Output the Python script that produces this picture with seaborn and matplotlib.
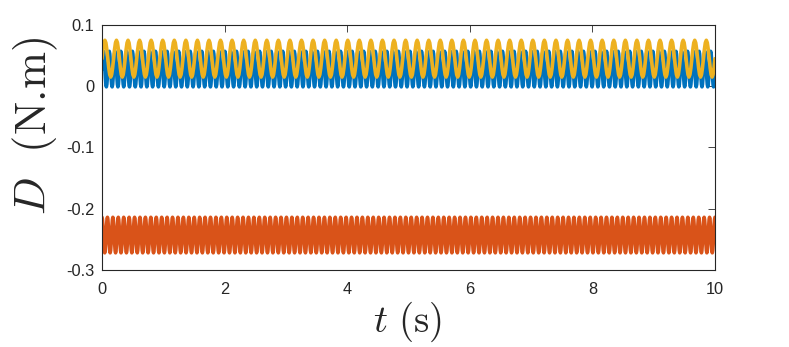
import numpy as np
import pandas as pd
import matplotlib
matplotlib.use("Agg")
import matplotlib.pyplot as plt
import seaborn as sns

blue_cycle = [0.028, 0.0425, 0.053, 0.057, 0.053, 0.0425, 0.028, 0.0135, 0.003, -0.001, 0.003, 0.0135]
orange_cycle = [-0.214, -0.2179, -0.2285, -0.243, -0.2575, -0.2681, -0.272, -0.2681, -0.2575, -0.243, -0.2285, -0.2179]
yellow_cycle = [0.045, 0.060, 0.071, 0.075, 0.071, 0.060, 0.045, 0.030, 0.019, 0.015, 0.019, 0.030]
# number of cycles over the 10 s window, counted from the picture
blue_cycles = 106
orange_cycles = 113
yellow_cycles = 53
t_end = 10.0

series_names = ["blue", "orange", "yellow"]
colors = ["#0072BD", "#D95319", "#EDB120"]

x_ticks = [0, 2, 4, 6, 8, 10]
x_tick_labels = ["0", "2", "4", "6", "8", "10"]
y_ticks = [-0.3, -0.2, -0.1, 0, 0.1]
y_tick_labels = ["-0.3", "-0.2", "-0.1", "0", "0.1"]

frames = []
for name, cyc, n in zip(series_names, [blue_cycle, orange_cycle, yellow_cycle],
                        [blue_cycles, orange_cycles, yellow_cycles]):
    vals = np.tile(np.asarray(cyc), n)
    vals = np.append(vals, cyc[0])
    t = np.linspace(0, t_end, len(vals))
    frames.append(pd.DataFrame({"t": t, "D": vals, "series": name}))
df = pd.concat(frames, ignore_index=True)

sns.set_style("white")
plt.rcParams["font.family"] = ["Liberation Sans", "DejaVu Sans"]
plt.rcParams["mathtext.fontset"] = "cm"

fig = plt.figure(figsize=(7.89, 3.47), dpi=100)
ax = fig.add_axes([0.1293, 0.222, 0.7769, 0.706])

sns.lineplot(data=df, x="t", y="D", hue="series", hue_order=series_names,
             palette=colors, estimator=None, sort=False, linewidth=2.6,
             legend=False, ax=ax)

ax.set_xlim(0, 10)
ax.set_ylim(-0.3, 0.1)
ax.set_xticks(x_ticks)
ax.set_yticks(y_ticks)
ax.set_xticklabels(x_tick_labels)
ax.set_yticklabels(y_tick_labels)
ax.tick_params(direction="in", length=5, width=0.6, color="#262626",
               labelsize=11.8, labelcolor="#262626", top=True, right=True)
ax.tick_params(axis="x", pad=9)
ax.tick_params(axis="y", pad=5.5)
for s in ax.spines.values():
    s.set_visible(True)
    s.set_color("#262626")
    s.set_linewidth(0.8)

ax.set_xlabel(r"$t\ (\mathrm{s})$", fontsize=28, color="#262626")
ax.set_ylabel(r"$D\ \ (\mathrm{N.\!m})$", fontsize=32, color="#262626")
ax.xaxis.set_label_coords(408 / 789, 1 - 344 / 347, transform=fig.transFigure)
ax.xaxis.label.set_va("bottom")
ax.yaxis.set_label_coords(35 / 789, 1 - 126 / 347, transform=fig.transFigure)
ax.yaxis.label.set_va("center")

fig.savefig("out.png", dpi=100, facecolor="white")
